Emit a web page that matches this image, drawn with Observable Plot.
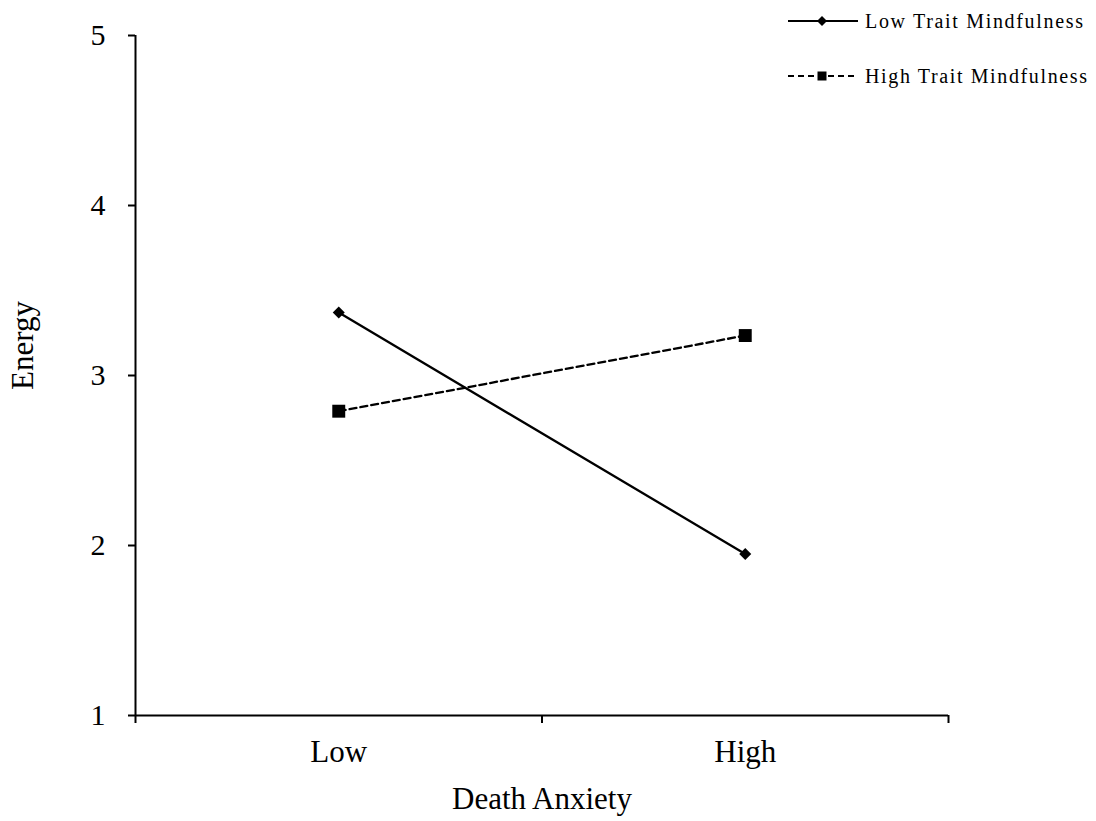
<!DOCTYPE html>
<html>
<head>
<meta charset="utf-8">
<script src="https://cdn.jsdelivr.net/npm/d3@7"></script>
<script src="https://cdn.jsdelivr.net/npm/@observablehq/plot@0.6"></script>
<style>
  html, body { margin: 0; padding: 0; background: #fff; }
  #wrap { position: relative; width: 1096px; height: 821px; }
  #legend { position: absolute; left: 0; top: 0; width: 1096px; height: 100px; pointer-events: none; }
  #legend text { font-family: "Liberation Serif", "Times New Roman", serif; font-size: 20px; fill: #000; }
</style>
</head>
<body>
<div id="wrap"></div>
<script>
const categories = ["Low", "High"];
const seriesNames = ["Low Trait Mindfulness", "High Trait Mindfulness"];
const lowTraitValues = [3.37, 1.95];
const highTraitValues = [2.79, 3.235];
const yTicks = [1, 2, 3, 4, 5];
const xLabel = "Death Anxiety";
const yLabel = "Energy";

const lowData = categories.map((c, i) => ({cat: c, pos: i + 0.5, value: lowTraitValues[i]}));
const highData = categories.map((c, i) => ({cat: c, pos: i + 0.5, value: highTraitValues[i]}));

const FS = 31;
const chart = Plot.plot({
  width: 1096,
  height: 821,
  marginLeft: 135,
  marginRight: 148,
  marginTop: 35,
  marginBottom: 106,
  style: {fontFamily: "Liberation Serif, Times New Roman, serif", fontSize: FS + "px", color: "#000", background: "#fff"},
  x: {domain: [0, categories.length]},
  y: {domain: [yTicks[0], yTicks[yTicks.length - 1]]},
  marks: [
    Plot.axisY(yTicks, {tickSize: 7, tickPadding: 23, tickFormat: d => String(d), label: null, strokeWidth: 2, fontSize: 30}),
    Plot.axisX(d3.range(categories.length + 1), {tickSize: 8, tickFormat: () => "", label: null, strokeWidth: 2}),
    Plot.axisX(categories.map((c, i) => i + 0.5), {tickSize: 0, tickPadding: 24, tickFormat: d => categories[Math.round(d - 0.5)], label: null, fontSize: FS}),
    Plot.ruleX([0], {strokeWidth: 2, stroke: "#000"}),
    Plot.ruleY([yTicks[0]], {strokeWidth: 2, stroke: "#000", x1: 0, x2: categories.length}),
    Plot.text([xLabel], {frameAnchor: "bottom", dy: 84, lineAnchor: "middle", textAnchor: "middle", fontSize: FS, fill: "#000"}),
    Plot.text([yLabel], {frameAnchor: "left", dx: -112, dy: -30, rotate: -90, textAnchor: "middle", lineAnchor: "middle", fontSize: FS, fill: "#000"}),
    Plot.line(lowData, {x: "pos", y: "value", stroke: "#000", strokeWidth: 2.3}),
    Plot.line(highData, {x: "pos", y: "value", stroke: "#000", strokeWidth: 2.3, strokeDasharray: "7,4"}),
    Plot.dot(lowData, {x: "pos", y: "value", symbol: "diamond2", r: 5.4, fill: "#000", stroke: "none"}),
    Plot.dot(highData, {x: "pos", y: "value", symbol: "square", r: 7.3, fill: "#000", stroke: "none"})
  ]
});
const wrap = document.getElementById("wrap");
wrap.appendChild(chart);

// Legend (top-right, outside the plot frame)
const ns = "http://www.w3.org/2000/svg";
const leg = document.createElementNS(ns, "svg");
leg.setAttribute("id", "legend");
leg.setAttribute("width", 1096);
leg.setAttribute("height", 100);
const rows = [
  {name: seriesNames[0], y: 21, dash: null, sym: "diamond", len: 218},
  {name: seriesNames[1], y: 76, dash: "6,4", sym: "square", len: 222}
];
rows.forEach(r => {
  const line = document.createElementNS(ns, "line");
  line.setAttribute("x1", 788); line.setAttribute("x2", 858);
  line.setAttribute("y1", r.y); line.setAttribute("y2", r.y);
  line.setAttribute("stroke", "#000"); line.setAttribute("stroke-width", 2);
  if (r.dash) line.setAttribute("stroke-dasharray", r.dash);
  leg.appendChild(line);
  const p = document.createElementNS(ns, "path");
  if (r.sym === "diamond") p.setAttribute("d", `M822,${r.y - 5}L827,${r.y}L822,${r.y + 5}L817,${r.y}Z`);
  else p.setAttribute("d", `M817.5,${r.y - 4.5}h9v9h-9Z`);
  p.setAttribute("fill", "#000");
  leg.appendChild(p);
  const t = document.createElementNS(ns, "text");
  t.setAttribute("x", 865); t.setAttribute("y", r.y);
  t.setAttribute("dy", "0.35em");
  t.setAttribute("textLength", r.len);
  t.setAttribute("lengthAdjust", "spacing");
  t.textContent = r.name;
  leg.appendChild(t);
});
wrap.appendChild(leg);
</script>
</body>
</html>
